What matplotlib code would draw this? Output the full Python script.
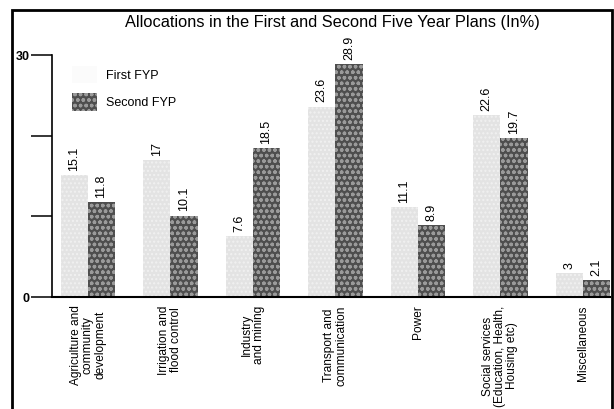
import matplotlib
matplotlib.use("Agg")
import matplotlib.pyplot as plt
from matplotlib.patches import Patch, Rectangle
import numpy as np

plt.rcParams['font.family'] = ['Liberation Sans', 'DejaVu Sans']
plt.rcParams['hatch.linewidth'] = 1.0

categories = ['Agriculture and\ncommunity\ndevelopment', 'Irrigation and\nflood control',
              'Industry\nand mining', 'Transport and\ncommunication', 'Power',
              'Social services\n(Education, Health,\nHousing etc)', 'Miscellaneous']
first_fyp = [15.1, 17, 7.6, 23.6, 11.1, 22.6, 3]
second_fyp = [11.8, 10.1, 18.5, 28.9, 8.9, 19.7, 2.1]

fig = plt.figure(figsize=(6.14, 4.09), dpi=100)
ax = fig.add_axes([52/614, 1-297/409, 558/614, 242/409])

x = np.arange(len(categories))
w = 0.33
b1 = ax.bar(x - w/2, first_fyp, w, color='#e3e3e3', edgecolor='#f1f1f1', hatch='....', linewidth=0)
b2 = ax.bar(x + w/2, second_fyp, w, color='#4e4e4e', edgecolor='#9a9a9a', hatch='ooo', linewidth=0)

for bars, vals in ((b1, first_fyp), (b2, second_fyp)):
    for r, v in zip(bars, vals):
        ax.annotate(f'{v:g}', (r.get_x() + r.get_width()/2, r.get_height()),
                    xytext=(0, 3), textcoords='offset points', rotation=90,
                    ha='center', va='bottom', fontsize=9)

ax.set_ylim(0, 30)
ax.set_xlim(-0.4355, 6.33)
ax.spines[['top', 'right']].set_visible(False)
ax.spines['left'].set_linewidth(1.2)
ax.spines['bottom'].set_linewidth(1.5)

ax.set_yticks([0, 10, 20, 30])
ax.set_yticklabels(['0', '', '', '30'], fontweight='bold', fontsize=9)
ax.tick_params(axis='y', length=15, width=1.1, pad=1)

ax.set_xticks(x)
ax.set_xticklabels(categories, rotation=90, fontsize=8.6)
ax.tick_params(axis='x', length=0, pad=6)
for lbl in ax.get_xticklabels():
    lbl.set_multialignment('center')
    lbl.set_linespacing(1.02)

handles = [Patch(facecolor='#fbfbfb', edgecolor='none'),
           Patch(facecolor='#4e4e4e', edgecolor='#9a9a9a', hatch='ooo', linewidth=0)]
ax.legend(handles, ['First FYP', 'Second FYP'], loc='upper left',
          bbox_to_anchor=(20/558, 231/242), frameon=False, fontsize=9,
          handlelength=2.0, handleheight=1.75, handletextpad=0.7,
          labelspacing=0.8, borderpad=0, borderaxespad=0)

fig.text(0.541, 1-22/409, 'Allocations in the First and Second Five Year Plans (In%)',
         ha='center', va='center', fontsize=11.8)

fig.patches.append(Rectangle((12/614, -0.1), 600/614, 1.1 - 10/409, transform=fig.transFigure,
                             fill=False, edgecolor='black', linewidth=2, clip_on=False))

fig.savefig('out.png', dpi=100)
